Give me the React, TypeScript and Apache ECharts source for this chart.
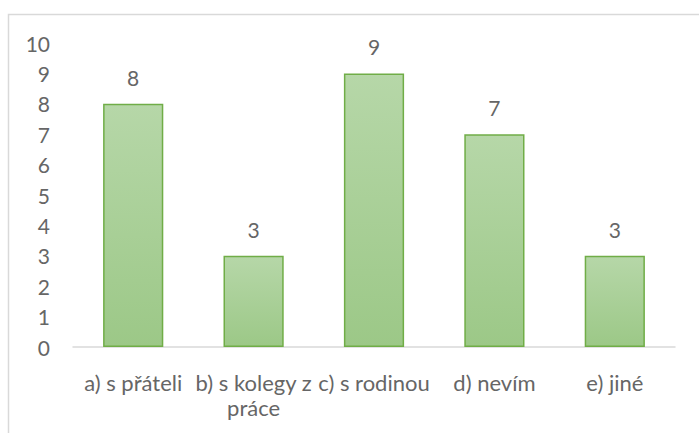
import React, { useEffect, useRef } from "react";
import * as echarts from "echarts";

const categories = ["a) s přáteli", "b) s kolegy z práce", "c) s rodinou", "d) nevím", "e) jiné"];
const values = [8, 3, 9, 7, 3];
const yTicks = [0, 10, 1];

export default function App() {
  const ref = useRef<HTMLDivElement>(null);
  useEffect(() => {
    const chart = echarts.init(ref.current!, null, { renderer: "svg" });
    const font = "Lato, 'Open Sans', sans-serif";
    chart.setOption({
      animation: false,
      backgroundColor: "#ffffff",
      graphic: [
        {
          type: "rect",
          shape: { x: 8.5, y: 14.5, width: 720, height: 460 },
          style: { fill: "none", stroke: "#d9d9d9", lineWidth: 1.5 },
          silent: true,
        },
      ],
      grid: { left: 73, right: 24, top: 43, bottom: 86, containLabel: false },
      xAxis: {
        type: "category",
        data: categories,
        axisLine: { show: true, lineStyle: { color: "#d9d9d9", width: 1.5 } },
        axisTick: { show: false },
        axisLabel: {
          color: "#666666",
          fontSize: 22,
          fontFamily: font,
          margin: 23,
          lineHeight: 25,
          interval: 0,
          formatter: (v: string) => v.replace(" z práce", " z\npráce"),
        },
      },
      yAxis: {
        type: "value",
        min: yTicks[0],
        max: yTicks[1],
        interval: yTicks[2],
        axisLine: { show: false },
        axisTick: { show: false },
        splitLine: { show: false },
        axisLabel: { color: "#666666", fontSize: 21, fontFamily: font, margin: 23 },
      },
      series: [
        {
          type: "bar",
          data: values,
          barWidth: "50%",
          itemStyle: {
            color: new echarts.graphic.LinearGradient(0, 0, 0, 1, [
              { offset: 0, color: "#b6d7a8" },
              { offset: 1, color: "#9cc887" },
            ]),
            borderColor: "#70ad47",
            borderWidth: 1.5,
          },
          label: {
            show: true,
            position: "top",
            distance: 16,
            color: "#666666",
            fontSize: 21,
            fontFamily: font,
          },
        },
      ],
    });
    return () => chart.dispose();
  }, []);
  return (
    <div
      ref={ref}
      style={{ position: "absolute", left: 0, top: 0, width: 699, height: 433 }}
    />
  );
}
